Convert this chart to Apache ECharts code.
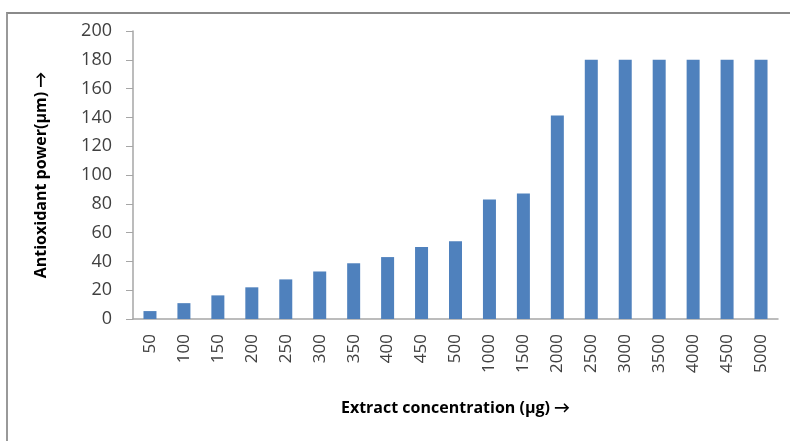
<!DOCTYPE html>
<html>
<head>
<meta charset="utf-8">
<script src="https://cdn.jsdelivr.net/npm/echarts@6/dist/echarts.min.js"></script>
<style>
html,body{margin:0;padding:0;background:#fff;}
#frame{position:absolute;left:6px;top:12px;width:800px;height:440px;border-left:2px solid #999;border-top:2px solid #8a8a8a;box-sizing:border-box;}
#chart{position:absolute;left:0;top:0;width:790px;height:441px;}
</style>
</head>
<body>
<div id="frame"></div>
<div id="chart"></div>
<script>
const categories = ["50","100","150","200","250","300","350","400","450","500","1000","1500","2000","2500","3000","3500","4000","4500","5000"];
const values = [5.5, 11, 16.4, 22, 27.5, 33, 38.7, 43, 50, 54, 83, 87.2, 141.4, 180, 180, 180, 180, 180, 180];
const yTicks = { min: 0, max: 200, interval: 20 };

const chart = echarts.init(document.getElementById('chart'), null, {renderer: 'canvas'});
const font = '"Open Sans", Lato, sans-serif';
chart.setOption({
  animation: false,
  backgroundColor: 'transparent',
  grid: { left: 133, right: 12, top: 31, bottom: 122, containLabel: false },
  xAxis: {
    type: 'category',
    data: categories,
    name: 'Extract concentration (\u00b5g) \u2192',
    nameLocation: 'middle',
    nameGap: 81,
    nameTextStyle: { fontFamily: font, fontWeight: 'bold', fontSize: 16, color: '#000' },
    axisLine: { lineStyle: { color: '#a6a6a6', width: 1.5 } },
    axisTick: { show: false },
    axisLabel: { rotate: 90, margin: 15, fontFamily: font, fontSize: 17, color: '#404040', interval: 0 }
  },
  yAxis: {
    type: 'value',
    min: yTicks.min, max: yTicks.max, interval: yTicks.interval,
    name: 'Antioxidant power(\u00b5m) \u2192',
    nameLocation: 'middle',
    nameGap: 84,
    nameTextStyle: { fontFamily: font, fontWeight: 'bold', fontSize: 16, color: '#000' },
    axisLine: { show: true, lineStyle: { color: '#a6a6a6', width: 1.5 } },
    axisTick: { show: true, length: 7, lineStyle: { color: '#a6a6a6' } },
    axisLabel: { margin: 21, fontFamily: font, fontSize: 18, color: '#404040' },
    splitLine: { show: false }
  },
  series: [{
    type: 'bar',
    data: values,
    barWidth: 13,
    itemStyle: { color: '#4f81bd' }
  }]
});
</script>
</body>
</html>
